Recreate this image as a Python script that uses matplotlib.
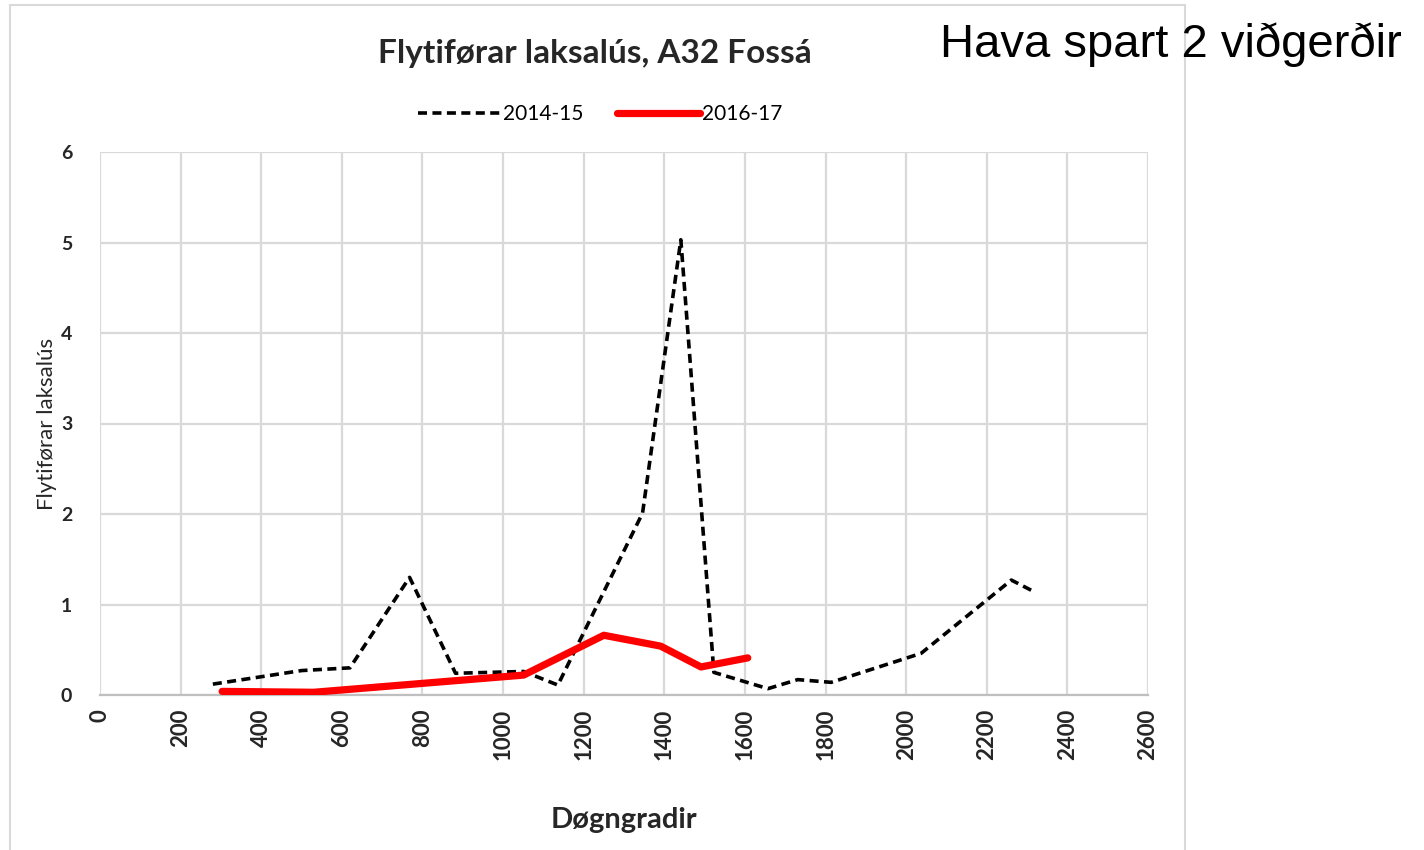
import matplotlib
matplotlib.use("Agg")
import matplotlib.pyplot as plt
from matplotlib.patches import Rectangle

# Data
x_1415 = [280, 500, 620, 768, 882, 1051, 1136, 1346, 1441, 1523, 1657, 1731, 1814, 2037, 2261, 2318]
y_1415 = [0.12, 0.27, 0.30, 1.30, 0.24, 0.26, 0.11, 2.01, 5.03, 0.25, 0.07, 0.17, 0.14, 0.46, 1.27, 1.14]
x_1617 = [303, 530, 1051, 1250, 1391, 1491, 1607]
y_1617 = [0.04, 0.03, 0.22, 0.66, 0.54, 0.31, 0.41]
xticks = list(range(0, 2601, 200))
yticks = [0, 1, 2, 3, 4, 5, 6]
title = "Flytiførar laksalús, A32 Fossá"
xlabel = "Døgngradir"
ylabel = "Flytiførar laksalús"
note = "Hava spart 2 viðgerðir"
labels = ["2014-15", "2016-17"]

plt.rcParams['font.family'] = ['Lato', 'DejaVu Sans']

fig = plt.figure(figsize=(14.24, 8.5), dpi=100)
fig.patch.set_facecolor('white')
fig.patches.append(Rectangle((10/1424, -0.02), 1175/1424, 1.014, transform=fig.transFigure,
                             fill=False, edgecolor='#d9d9d9', linewidth=1.5))

ax = fig.add_axes([100/1424, 1-695/850, 1048/1424, 543/850])
l1, = ax.plot(x_1415, y_1415, color='black', linewidth=2.6, dashes=(2.5, 1.5), label=labels[0], zorder=3)
l2, = ax.plot(x_1617, y_1617, color='#ff0000', linewidth=5.2, solid_capstyle='round',
              solid_joinstyle='round', label=labels[1], zorder=4)

ax.set_xlim(0, 2600)
ax.set_ylim(0, 6)
ax.set_xticks(xticks)
ax.set_yticks(yticks)
ax.set_xticklabels([str(v) for v in xticks], rotation=90, fontsize=16, fontweight='bold', color='#262626')
ax.set_yticklabels([str(v) for v in yticks], fontsize=14, fontweight='bold', color='#262626')
ax.grid(True, color='#d9d9d9', linewidth=1.6)
ax.set_axisbelow(True)
for s in ['top', 'right', 'left']:
    ax.spines[s].set_visible(False)
ax.spines['bottom'].set_color('#bfbfbf')
ax.spines['bottom'].set_linewidth(1.6)
ax.tick_params(length=0, pad=10)
ax.tick_params(axis='y', pad=20)

ax.set_xlabel(xlabel, fontsize=21, fontweight='bold', labelpad=34, color='#262626')
ax.set_ylabel(ylabel, fontsize=16, labelpad=3, color='#262626')

fig.text(595/1424, 1-53/850, title, fontsize=24, fontweight='bold', ha='center', va='center', color='#262626')
fig.text(940/1424, 1-45/850, note, fontsize=34, family='Liberation Sans', ha='left', va='center', color='black')

fig.legend(handles=[l1, l2], labels=labels, loc='center', bbox_to_anchor=(600/1424, 1-114/850),
           ncol=2, frameon=False, fontsize=15, handlelength=4.0, handletextpad=0.1, columnspacing=1.6)

fig.savefig('out.png', dpi=100)
